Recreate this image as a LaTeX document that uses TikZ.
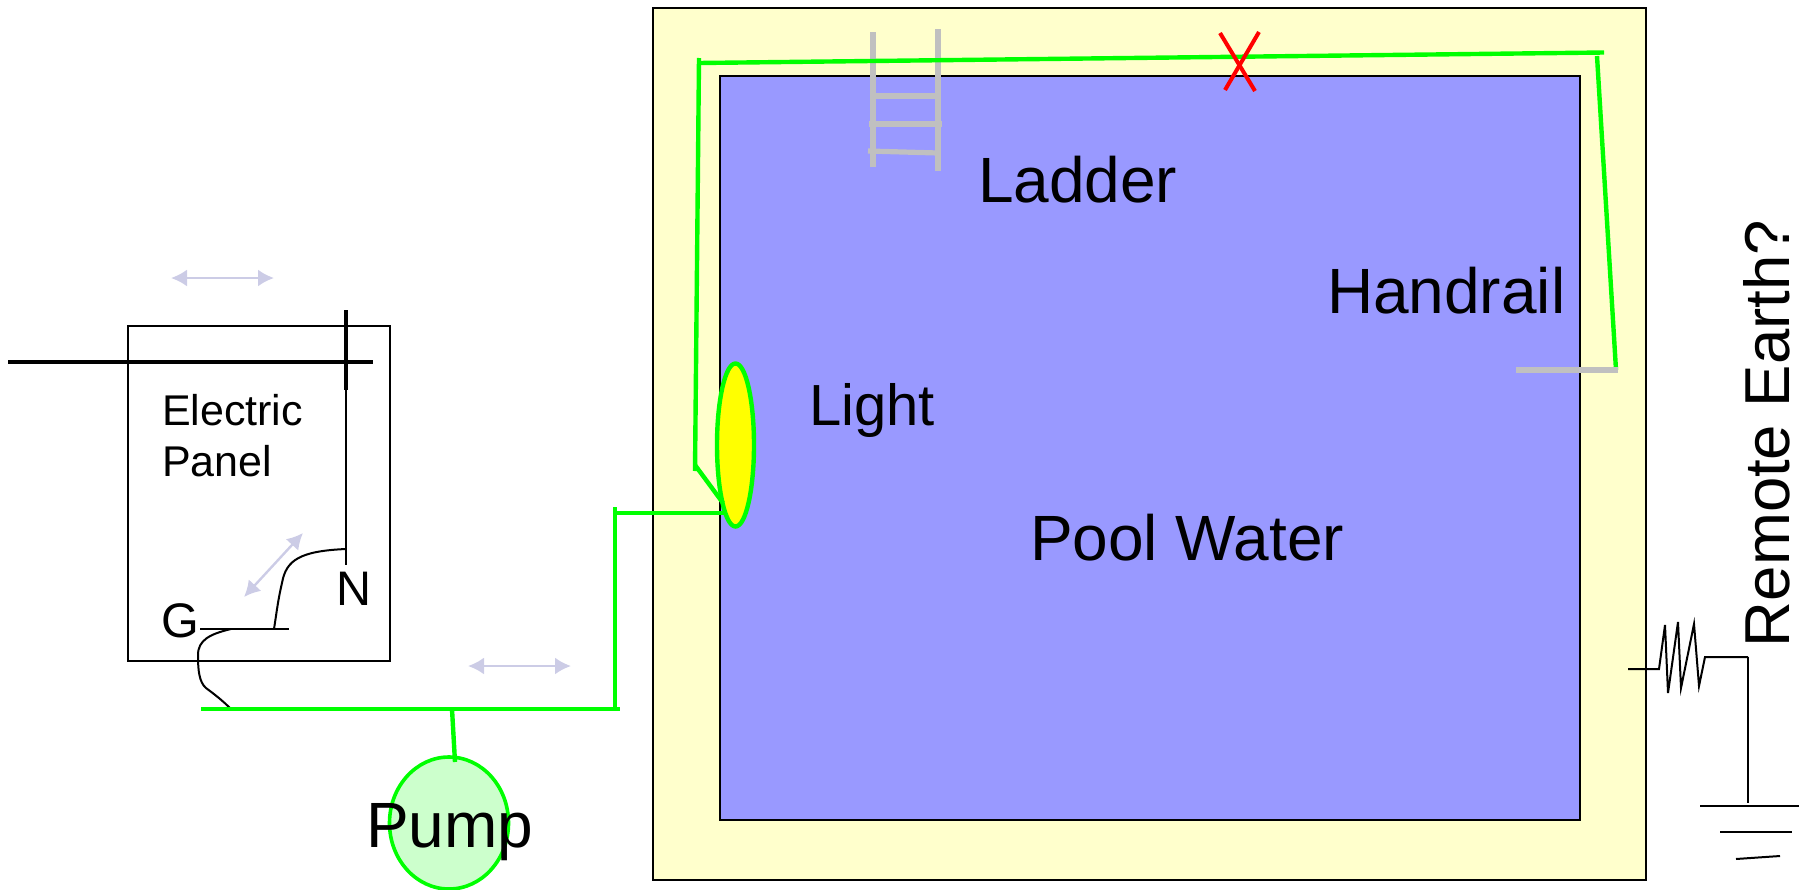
\documentclass[tikz,border=0pt]{standalone}
\usepackage{fontspec}
\setmainfont{Liberation Sans}
\usetikzlibrary{arrows.meta,shapes.geometric}
\definecolor{deck}{HTML}{FFFFCC}
\definecolor{water}{HTML}{9999FF}
\definecolor{pumpfill}{HTML}{CCFFCC}
\definecolor{bond}{HTML}{00FF00}
\definecolor{lav}{HTML}{CCCCE6}
\definecolor{steel}{HTML}{C0C0C0}
\definecolor{lamp}{RGB}{255,255,0}
\tikzset{
  x=1pt,y=-1pt,
  box/.style={draw=black,line width=2pt,inner sep=0pt,outer sep=0pt,rectangle},
  bondline/.style={draw=bond,line width=4.4pt,line join=miter},
  steelline/.style={draw=steel,line width=5.2pt},
  thick wire/.style={draw=black,line width=4pt},
  thin wire/.style={draw=black,line width=2pt},
  dbl/.style={draw=lav,line width=2.4pt,{Latex[length=16pt,width=17pt]}-{Latex[length=16pt,width=17pt]}},
  lab/.style={anchor=base west,inner sep=0pt,outer sep=0pt,text=black,font=\fontsize{64}{64}\selectfont},
  midlab/.style={lab,font=\fontsize{48.5}{48.5}\selectfont},
  smalllab/.style={lab,font=\fontsize{43}{43}\selectfont},
}
\begin{document}
\begin{tikzpicture}
\useasboundingbox (0,0) rectangle (1804,889);
\clip (0,0) rectangle (1804,889);
% pool
\node[box,fill=deck,minimum width=993.5pt,minimum height=871.5pt] (deck) at (1149.25,443.75) {};
\node[box,fill=water,minimum width=860pt,minimum height=744pt] (water) at (1150,448) {};
% ladder
\coordinate (la) at (873,32); \coordinate (lb) at (873,167);
\coordinate (ra) at (938,29); \coordinate (rb) at (938,171);
\coordinate (r1a) at (873,96); \coordinate (r1b) at (938,96);
\coordinate (r2a) at (869,124); \coordinate (r2b) at (942,124);
\coordinate (r3a) at (868,151); \coordinate (r3b) at (938,153);
\draw[steelline] (la)--(lb);
\draw[steelline] (ra)--(rb);
\draw[steelline] (r1a)--(r1b);
\draw[steelline] (r2a)--(r2b);
\draw[steelline] (r3a)--(r3b);
% bond loop
\node[ellipse,draw=bond,fill=lamp,line width=4.4pt,inner sep=0pt,outer sep=0pt,minimum width=37pt,minimum height=163pt] (light) at (735.5,445) {};
\coordinate (g0) at (699,58); \coordinate (g1) at (699,63);
\coordinate (g2) at (1604,52.5);
\coordinate (g3) at (1597,56); \coordinate (g4) at (1616,370);
\coordinate (g5) at (695,471); \coordinate (g6) at (695,465);
\coordinate (g7) at (723,503);
\draw[bondline] (g1)--(g2);
\draw[bondline] (g0)--(g5);
\draw[bondline] (g6)--(g7);
\draw[bondline] (g3)--(g4);
\coordinate (hr) at (1516,370); \coordinate (hs) at (1618,370);
\draw[steelline] (hr)--(hs);
% cross
\coordinate (x1) at (1220,33); \coordinate (x2) at (1255,91);
\coordinate (x3) at (1259,32); \coordinate (x4) at (1225,90);
\draw[draw=red,line width=4pt] (x1)--(x2);
\draw[draw=red,line width=4pt] (x3)--(x4);
% panel
\node[box,fill=none,minimum width=262pt,minimum height=335pt] (panel) at (259,493.5) {};
\coordinate (h1) at (8,361.5); \coordinate (h2) at (373,361.5);
\coordinate (v1) at (346,310); \coordinate (v2) at (346,390); \coordinate (v3) at (346,565);
\draw[thick wire] (h1)--(h2);
\draw[thick wire] (v1)--(v2);
\draw[thin wire] (v2)--(v3);
\coordinate (n1) at (346,549); \coordinate (gb) at (274,629);
\coordinate (gb1) at (200,629); \coordinate (gb2) at (289,629);
\draw[thin wire] (gb1)--(gb2);
\draw[thin wire] (n1) .. controls (300,551) and (286,560) .. (282,583) .. controls (278,600) and (277,610) .. (gb);
\coordinate (gc) at (231,629); \coordinate (bj) at (231,709);
\draw[thin wire] (gc) .. controls (210,634) and (198,640) .. (198,655) .. controls (198,670) and (199,682) .. (206,688) .. controls (214,694) and (222,700) .. (bj);
% green bus
\coordinate (b1) at (201,709); \coordinate (b2) at (620,709);
\coordinate (u1) at (615,507); \coordinate (u2) at (615,709);
\coordinate (t1) at (615,513); \coordinate (t2) at (725,513);
\coordinate (p1) at (452,709); \coordinate (p2) at (455,762);
\draw[bondline] (b1)--(b2);
\draw[bondline] (u1)--(u2);
\draw[bondline] (t1)--(t2);
\node[ellipse,draw=bond,fill=pumpfill,line width=3.6pt,inner sep=0pt,outer sep=0pt,minimum width=119pt,minimum height=132pt] (pump) at (449,823) {};
\draw[bondline] (p1)--(p2);
% lavender arrows
\coordinate (a1) at (171,278); \coordinate (a2) at (274,278);
\coordinate (a3) at (468,666); \coordinate (a4) at (571,666);
\coordinate (a5) at (244,597); \coordinate (a6) at (303,533);
\draw[dbl] (a1)--(a2);
\draw[dbl] (a3)--(a4);
\draw[dbl] (a5)--(a6);
% resistor and earth
\coordinate (e0) at (1628,669); \coordinate (e9) at (1748,657); \coordinate (e10) at (1748,803);
\draw[thin wire,line join=miter] (e0)--(1659,669)--(1665,625)--(1668,693)--(1678,622)--(1681,688)--(1694,624)--(1699,686)--(1705,657)--(e9);
\draw[thin wire] (e9)--(e10);
\coordinate (s1) at (1700,806); \coordinate (s2) at (1799,806);
\coordinate (s3) at (1720,832); \coordinate (s4) at (1792,832);
\coordinate (s5) at (1736,859); \coordinate (s6) at (1780,856);
\draw[thin wire] (s1)--(s2);
\draw[thin wire] (s3)--(s4);
\draw[thin wire] (s5)--(s6);
% labels
\node[lab] (tladder) at (978,202) {Ladder};
\node[lab] (thand) at (1327,313) {Handrail};
\node[lab,font=\fontsize{58}{58}\selectfont] (tlight) at (809,425.5) {Light};
\node[lab] (tpool) at (1030,560) {Pool Water};
\node[lab] (tpump) at (366,847) {Pump};
\node[lab,rotate=90,font=\fontsize{63.5}{63.5}\selectfont] (tearth) at (1789,647) {Remote Earth?};
\node[smalllab] (te) at (162,425) {Electric};
\node[smalllab] (tp) at (162,476) {Panel};
\node[midlab] (tn) at (336,605) {N};
\node[midlab] (tg) at (161,637) {G};
\end{tikzpicture}
\end{document}
